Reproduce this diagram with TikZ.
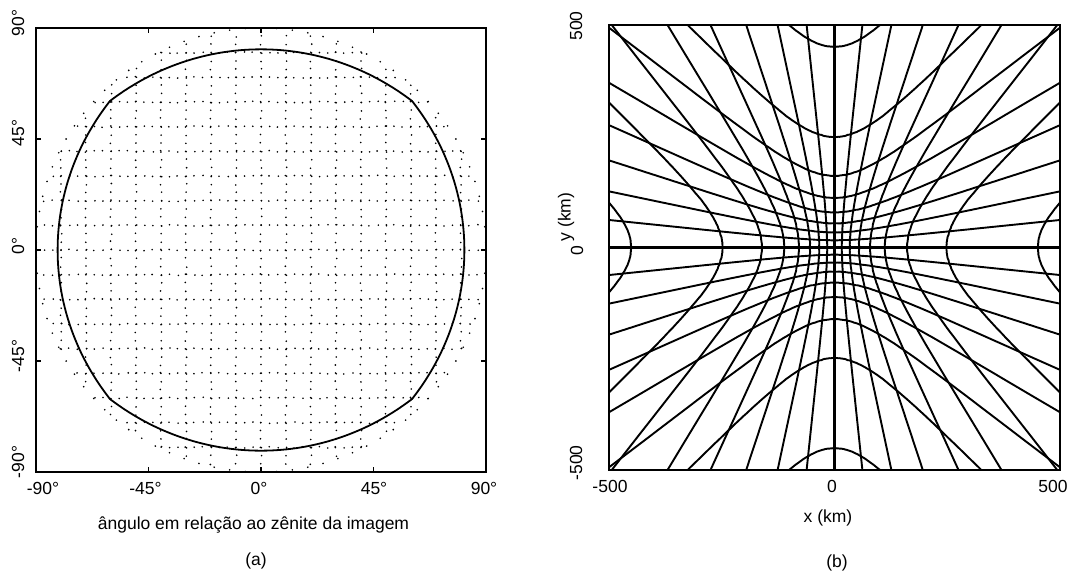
\documentclass[tikz,border=0pt]{standalone}
\usepackage{fontspec}
\setmainfont{Liberation Sans}
\begin{document}
\begin{tikzpicture}[x=1pt,y=-1pt,
  lbl/.style={font=\fontsize{17.5}{20}\selectfont, inner sep=0pt},
  axbox/.style={line width=1.5pt},
  tickmark/.style={line width=1.2pt},
  gridline/.style={line width=1.9pt, line join=round},
  axisline/.style={line width=2.1pt},
  rimline/.style={line width=1.8pt, line join=round},
  skydot/.style={fill=black},
  declare function={
    dd(\t)=0.030682/(sqrt(cos(\t)*cos(\t)+0.030682)+cos(\t));
    gk(\t)=111.195*atan2(dd(\t)*sin(\t),1+dd(\t)*cos(\t));
    gr(\t)=gk(\t)/\t;
    fx(\a,\b)=gr(sqrt(\a*\a+\b*\b))*\a;
    thz(\r)=atan2(1.015225*sin(\r/111.195),0.015225*cos(\r/111.195)-2*sin(\r/222.39)*sin(\r/222.39));
    ax(\u,\v)=thz(100*sqrt(\u*\u+\v*\v))/sqrt(\u*\u+\v*\v)*\u;
  }]
\useasboundingbox (0,0) rectangle (1069,574);

% ---------------- panel (a) ----------------
\begin{scope}
  \clip (36,28) rectangle (486,472);
  \begin{scope}[shift={(261,250)}, x=2.5pt, y=2.4667pt]
    \pgfmathsetseed{7}
    \foreach \j in {-9,...,9}{
      \foreach \i in {-27,...,27}{
        \pgfmathsetmacro\X{\i*10/3}
        \pgfmathsetmacro\Y{\j*10}
        \pgfmathsetmacro\R{\X*\X+\Y*\Y}
        \ifdim\R pt<8100.5pt
          \fill[skydot] ({\X+0.3*rand},{\Y+0.3*rand}) circle[radius=0.9pt];
        \fi
      }}
    \foreach \i in {-9,...,9}{
      \foreach \j in {-27,...,27}{
        \pgfmathsetmacro\X{\i*10}
        \pgfmathsetmacro\Y{\j*10/3}
        \pgfmathsetmacro\R{\X*\X+\Y*\Y}
        \ifdim\R pt<8100.5pt
          \fill[skydot] ({\X+0.3*rand},{\Y+0.3*rand}) circle[radius=0.9pt];
        \fi
      }}
    \foreach \k in {0,...,89}{
      \fill[skydot] ({90*cos(\k*4+2)},{90*sin(\k*4+2)}) circle[radius=0.9pt];
    }
    % image of the 1000 km x 1000 km square
    \draw[rimline] plot[domain=-5:5, samples=81, variable=\v] ({ax(5,\v)},{ax(\v,5)})
      -- plot[domain=5:-5, samples=81, variable=\v] ({ax(\v,5)},{ax(5,\v)})
      -- plot[domain=5:-5, samples=81, variable=\v] ({ax(-5,\v)},{ax(\v,-5)})
      -- plot[domain=-5:5, samples=81, variable=\v] ({ax(\v,-5)},{ax(-5,\v)}) -- cycle;
  \end{scope}
\end{scope}
\draw[axbox] (36,28) rectangle (486,472);
\foreach \xx in {148.5,261,373.5}{
  \draw[tickmark] (\xx,28) -- (\xx,33);
  \draw[tickmark] (\xx,472) -- (\xx,467);
}
\foreach \yy in {139,250,361}{
  \draw[tickmark] (36,\yy) -- (41,\yy);
  \draw[tickmark] (486,\yy) -- (481,\yy);
}
\node[lbl] (ax1) at (43,488) {-90°};
\node[lbl] (ax2) at (145.5,488) {-45°};
\node[lbl] (ax3) at (259,488) {0°};
\node[lbl] (ax4) at (374,488) {45°};
\node[lbl] (ax5) at (484,488) {90°};
\node[lbl,rotate=90] (ay1) at (18,23) {90°};
\node[lbl,rotate=90] (ay2) at (18,133) {45°};
\node[lbl,rotate=90] (ay3) at (18,246) {0°};
\node[lbl,rotate=90] (ay4) at (18,356) {-45°};
\node[lbl,rotate=90] (ay5) at (18,462) {-90°};
\node[lbl] (atitle) at (253.5,525) {ângulo em relação ao zênite da imagem};
\node[lbl] (acap) at (256,560.5) {(a)};

% ---------------- panel (b) ----------------
\begin{scope}
  \clip (609,25) rectangle (1060,470);
  \begin{scope}[shift={(834.5,247.5)}, x=0.451pt, y=0.445pt]
    \draw[axisline] (0,-520) -- (0,520);
    \draw[axisline] (-520,0) -- (520,0);
    \foreach \p in {10,20,...,80}{
      \pgfmathsetmacro\qm{sqrt(7569-\p*\p)}
      \draw[gridline] plot[domain=-\qm:\qm, samples=131, variable=\q] ({fx(\p,\q)},{fx(\q,\p)});
      \draw[gridline] plot[domain=-\qm:\qm, samples=131, variable=\q] ({fx(-\p,\q)},{fx(\q,-\p)});
      \draw[gridline] plot[domain=-\qm:\qm, samples=131, variable=\q] ({fx(\q,\p)},{fx(\p,\q)});
      \draw[gridline] plot[domain=-\qm:\qm, samples=131, variable=\q] ({fx(\q,-\p)},{fx(-\p,\q)});
    }
  \end{scope}
\end{scope}
\draw[axbox] (609,25) rectangle (1060,470);
\node[lbl] (bx1) at (610,486) {-500};
\node[lbl] (bx2) at (832,486) {0};
\node[lbl] (bx3) at (1053,486) {500};
\node[lbl] (bxt) at (828,518) {x (km)};
\node[lbl,rotate=90] (by1) at (576,26) {500};
\node[lbl,rotate=90] (by2) at (577,251) {0};
\node[lbl,rotate=90] (by3) at (576,463) {-500};
\node[lbl,rotate=90] (byt) at (566,217) {y (km)};
\node[lbl] (bcap) at (837,563) {(b)};
\end{tikzpicture}
\end{document}
